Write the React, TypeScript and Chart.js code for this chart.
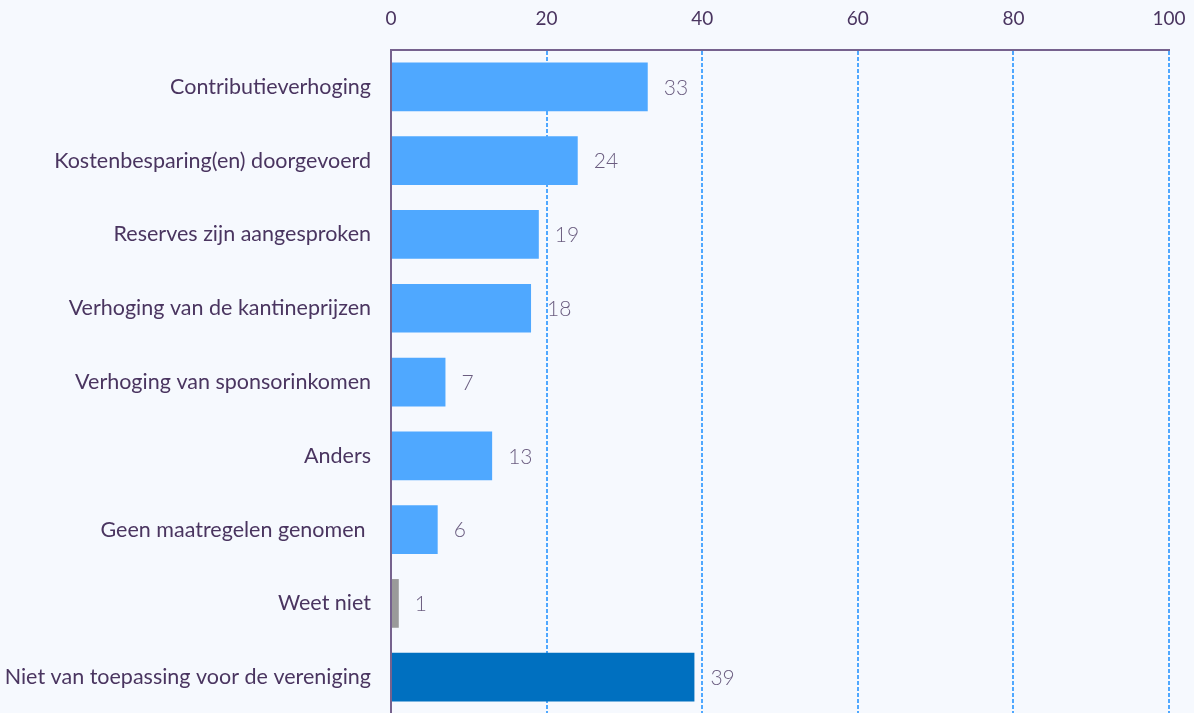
import React, { useEffect, useRef } from "react";
import { Chart, registerables } from "chart.js";

Chart.register(...registerables);

const categories = [
  "Contributieverhoging",
  "Kostenbesparing(en) doorgevoerd",
  "Reserves zijn aangesproken",
  "Verhoging van de kantineprijzen",
  "Verhoging van sponsorinkomen",
  "Anders",
  "Geen maatregelen genomen ",
  "Weet niet",
  "Niet van toepassing voor de vereniging",
];
const values = [33, 24, 19, 18, 7, 13, 6, 1, 39];
const barColors = [
  "#4fa8ff", "#4fa8ff", "#4fa8ff", "#4fa8ff", "#4fa8ff", "#4fa8ff", "#4fa8ff",
  "#9a9a9a", "#0070c0",
];
const xTicks = [0, 20, 40, 60, 80, 100];

const valueLabels = {
  id: "valueLabels",
  afterDatasetsDraw(chart: any) {
    const ctx = chart.ctx;
    const meta = chart.getDatasetMeta(0);
    ctx.save();
    ctx.font = "300 21px Lato";
    ctx.fillStyle = "#6b5d80";
    ctx.textAlign = "left";
    ctx.textBaseline = "middle";
    meta.data.forEach((bar: any, i: number) => {
      ctx.fillText(String(values[i]), bar.x + 16, bar.y + 1);
    });
    ctx.restore();
  },
};

export default function App() {
  const ref = useRef<HTMLCanvasElement>(null);
  useEffect(() => {
    document.body.style.margin = "0";
    document.body.style.overflow = "hidden";
    const chart = new Chart(ref.current!, {
      type: "bar",
      data: {
        labels: categories,
        datasets: [
          {
            data: values,
            backgroundColor: barColors,
            categoryPercentage: 1,
            barPercentage: 0.66,
          },
        ],
      },
      options: {
        indexAxis: "y",
        responsive: false,
        animation: false,
        layout: { padding: { left: 0, right: 25, top: 0, bottom: 0 } },
        plugins: { legend: { display: false }, tooltip: { enabled: false } },
        scales: {
          x: {
            position: "top",
            min: 0,
            max: 100,
            afterBuildTicks: (s: any) => {
              s.ticks = xTicks.map((v) => ({ value: v }));
            },
            ticks: {
              color: "#4a3560",
              font: { family: "Lato", size: 19 },
              padding: 20,
            },
            grid: {
              color: "#4fa8ff",
              lineWidth: 2,
              drawTicks: false,
            },
            border: { display: true, color: "#76628e", width: 2, dash: [4, 2] },
            afterFit: (s: any) => {
              s.height = 50;
              s.paddingLeft = 0;
              s.paddingRight = 0;
            },
          },
          y: {
            ticks: {
              color: "#4a3560",
              font: { family: "Lato", size: 21.5 },
              padding: 20,
            },
            grid: { display: false, drawTicks: false },
            border: { display: true, color: "#76628e", width: 2 },
            afterFit: (s: any) => {
              s.width = 391;
            },
          },
        },
      },
      plugins: [valueLabels],
    });
    return () => chart.destroy();
  }, []);
  return (
    <div
      style={{
        position: "fixed",
        left: 0,
        top: 0,
        width: 1194,
        height: 713,
        overflow: "hidden",
        background: "#f6f9fe",
      }}
    >
      <canvas ref={ref} width={1194} height={747} style={{ width: 1194, height: 747 }} />
    </div>
  );
}
